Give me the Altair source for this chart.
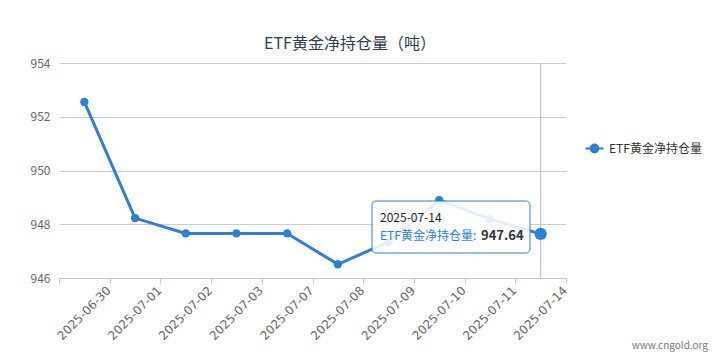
import altair as alt
import pandas as pd

dates = ["2025-06-30", "2025-07-01", "2025-07-02", "2025-07-03", "2025-07-07",
         "2025-07-08", "2025-07-09", "2025-07-10", "2025-07-11", "2025-07-14"]
values = [952.55, 948.23, 947.66, 947.66, 947.66, 946.51, 947.34, 948.90, 948.19, 947.64]
series_name = "ETF黄金净持仓量"
title_text = "ETF黄金净持仓量（吨）"
y_ticks = [946, 948, 950, 952, 954]
watermark = "www.cngold.org"

BLUE = "#2f7ed8"
FONT = "Noto Sans CJK SC"

df = pd.DataFrame({"date": dates, "value": values, "series": [series_name] * len(dates)})
base = alt.Chart(df)

x_enc = alt.X("date:N", sort=dates,
              scale=alt.Scale(paddingInner=0, paddingOuter=0),
              axis=alt.Axis(title=None, labelAngle=-45, labelAlign="right", labelBaseline="middle",
                            labelOffset=24, labelPadding=5, labelFontSize=12, labelColor="#666",
                            labelFont="DejaVu Sans", tickBand="extent", tickSize=5, tickColor="#b8c6d6",
                            domainColor="#b8c6d6", grid=False, labelOverlap=False))
y_enc = alt.Y("value:Q", scale=alt.Scale(domain=[946, 954], nice=False, zero=False),
              axis=alt.Axis(title=None, values=y_ticks, labelFontSize=12, labelColor="#666",
                            labelFont=FONT, domain=False, ticks=False, labelPadding=9,
                            grid=True, gridColor="#cccccc"))
color_enc = alt.Color("series:N", scale=alt.Scale(domain=[series_name], range=[BLUE]),
                      legend=alt.Legend(title=None, orient="none", legendX=525, legendY=75,
                                        symbolType="M-1,0L-0.4,0M0.4,0L1,0M0.42,0A0.42,0.42 0 1 1 -0.42,0A0.42,0.42 0 1 1 0.42,0Z",
                                        symbolSize=324, symbolStrokeWidth=2.2, symbolFillColor=BLUE,
                                        symbolStrokeColor=BLUE, labelFontSize=12, labelColor="#333",
                                        labelFont=FONT, labelOffset=4))

last = base.transform_filter(alt.datum.date == dates[-1])

crosshair = last.mark_rule(color="#bbbbbb", strokeWidth=1).encode(
    x=alt.X("date:N", sort=dates), y=alt.value(0), y2=alt.value(215))

line = base.mark_line(strokeWidth=3).encode(x=x_enc, y=y_enc, color=color_enc)
pts = base.mark_circle(size=70, opacity=1).encode(x=alt.X("date:N", sort=dates), y="value:Q",
                                                   color=alt.Color("series:N", legend=None))
hover_pt = last.mark_circle(size=150, opacity=1, color=BLUE).encode(
    x=alt.X("date:N", sort=dates), y="value:Q")

tip_box = last.mark_rect(fill="white", fillOpacity=0.88, stroke=BLUE, strokeWidth=1,
                         cornerRadius=4).encode(
    x=alt.value(313), x2=alt.value(471), y=alt.value(138), y2=alt.value(190))
tip_date = last.mark_text(align="left", baseline="middle", fontSize=12, color="#222", font=FONT).encode(
    x=alt.value(321), y=alt.value(155), text="date:N")
tip_name = last.mark_text(align="left", baseline="middle", fontSize=12, color=BLUE, font=FONT).encode(
    x=alt.value(321), y=alt.value(173), text=alt.value(series_name + ":"))
tip_val = last.mark_text(align="left", baseline="middle", fontSize=13, fontWeight="bold",
                         color="#333", font=FONT).encode(
    x=alt.value(422), y=alt.value(173), text=alt.Text("value:Q", format=".2f"))

title = last.mark_text(align="center", baseline="middle", fontSize=16, color="#2c3e50", font=FONT).encode(
    x=alt.value(291), y=alt.value(-19), text=alt.value(title_text))
wm = last.mark_text(align="right", baseline="middle", fontSize=10, color="#777", font=FONT).encode(
    x=alt.value(649), y=alt.value(283), text=alt.value(watermark))

chart = alt.layer(crosshair, line, pts, hover_pt, tip_box, tip_date, tip_name, tip_val, title, wm).properties(
    width=507, height=215,
    padding={"left": 51, "top": 55, "right": 145, "bottom": 85},
    autosize=alt.AutoSizeParams(type="none"),
).configure_view(stroke=None)

chart.save("out.html", embed_options={"renderer": "svg", "actions": False})
